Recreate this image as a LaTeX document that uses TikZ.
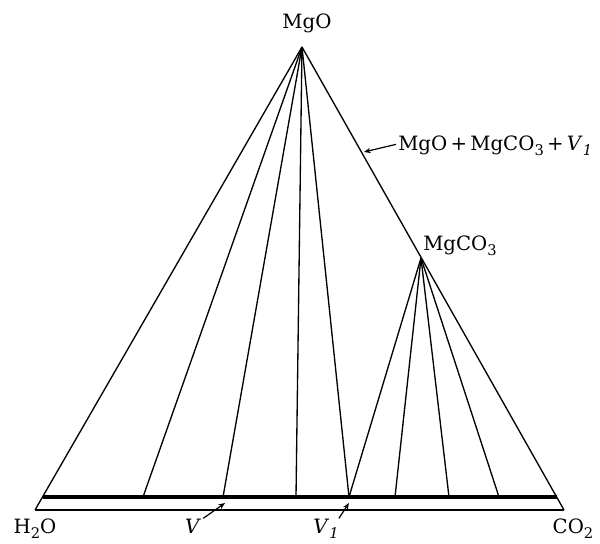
\documentclass[tikz,border=0pt]{standalone}
\usepackage{fontspec}
\setmainfont{DejaVu Serif}
\usetikzlibrary{arrows.meta}
\newcommand\lowsub[1]{\raisebox{-0.5ex}{\fontsize{11}{12}\selectfont #1}}
\begin{document}
\begin{tikzpicture}[x=0.75pt,y=-0.75pt,
  thinline/.style={line width=1pt},
  thickline/.style={line width=2.3pt},
  lbl/.style={inner sep=0pt,font=\fontsize{14.8}{17}\selectfont},
  pointer/.style={line width=0.9pt,-{Stealth[length=5pt,width=4pt]}}]
\useasboundingbox (0,0) rectangle (600,543);
% vertices
\coordinate (MgO) at (302,47);
\coordinate (MgCO3) at (421,258);
\coordinate (H) at (35,510);
\coordinate (C) at (564,510);
\coordinate (tl) at (43,497);
\coordinate (tr) at (557,497);
\coordinate (b1) at (143,497);
\coordinate (b2) at (223,497);
\coordinate (b3) at (296,497);
\coordinate (b4) at (349,497);
\coordinate (b5) at (395,497);
\coordinate (b6) at (449,497);
\coordinate (b7) at (499,497);
% base lines
\draw[thickline] (tl) -- (tr);
\draw[thinline] (H) -- (C);
% tie lines from MgO
\draw[thinline] (MgO) -- (H);
\draw[thinline] (MgO) -- (C);
\foreach \p in {b1,b2,b3,b4} \draw[thinline] (MgO) -- (\p);
% tie lines from MgCO3
\foreach \p in {b4,b5,b6,b7} \draw[thinline] (MgCO3) -- (\p);
% labels
\node[lbl,anchor=base] (lMgO) at (307,28) {MgO};
\node[lbl,anchor=base west] (lMgCO3) at (423,250) {MgCO\lowsub{3}};
\node[lbl,anchor=base west] (lmix) at (398,150) {MgO\,+\,MgCO\lowsub{3}\,+\,\textit{V}\lowsub{\textit{1}}};
\node[lbl,anchor=base] (lH) at (35,533) {H\lowsub{2}O};
\node[lbl,anchor=base] (lC) at (573,533) {CO\lowsub{2}};
\node[lbl,anchor=base] (lV) at (193,533) {\textit{V}};
\node[lbl,anchor=base] (lV1) at (326,533) {\textit{V}\lowsub{\textit{1}}};
% pointers
\coordinate (pm) at (364,152);
\coordinate (pv) at (225,503);
\coordinate (pv1) at (349,503);
\draw[pointer] (lmix.west) ++(-2,-1) -- (pm);
\draw[pointer] (lV.north east) ++(2,0) -- (pv);
\draw[pointer] (lV1.north east) ++(0,0) -- (pv1);
\end{tikzpicture}
\end{document}
